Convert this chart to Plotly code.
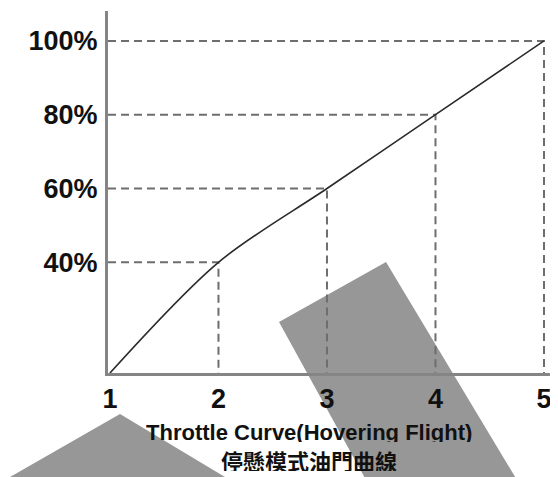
import plotly.graph_objects as go

# data
stick = [1, 2, 3, 4, 5]
throttle = [10, 40, 60, 80, 100]
y_ticks = [40, 60, 80, 100]
y_tick_text = ["40%", "60%", "80%", "100%"]
title_en = "Throttle Curve(Hovering Flight)"
title_zh = "停懸模式油門曲線"

# page has an 8px body margin, so the figure is laid out in page pixels minus 8
OFF = 8
W, H = 558 - OFF, 477 - OFF
L, R, T, B = 108 - OFF, 0, 11 - OFF, 477 - 373
x_range = [0.982, 5.129]
y_range = [10, 108.1]


def px(x, y):
    # page pixel position -> paper coords
    x, y = x - OFF, y - OFF
    return (x - L) / (W - L - R), (H - B - y) / (H - T - B)


def poly(points):
    pts = [px(x, y) for x, y in points]
    return "M " + " L ".join(f"{a:.4f},{b:.4f}" for a, b in pts) + " Z"


fig = go.Figure()

# dashed guide lines to each point (skip the first one at the corner)
for xv, yv in zip(stick[1:], throttle[1:]):
    fig.add_trace(go.Scatter(
        x=[x_range[0], xv, xv], y=[yv, yv, y_range[0]],
        mode="lines", line=dict(color="#6e6e6e", width=2, dash="8px,5px"),
        hoverinfo="skip", showlegend=False,
    ))

fig.add_trace(go.Scatter(
    x=stick, y=throttle, mode="lines",
    line=dict(color="#2a2a2a", width=1.6, shape="spline", smoothing=0.9),
    showlegend=False,
))

# grey blocks covering parts of the picture
for pts in [
    [(279, 322), (386, 262), (553, 540), (399, 540)],
    [(120, 414), (330, 540), (-100, 540)],
]:
    fig.add_shape(type="path", path=poly(pts), xref="paper", yref="paper",
                  fillcolor="#979797", line=dict(width=0), layer="below")

tick_font = dict(family="Liberation Sans, Arial", size=27, color="#111", weight="bold")

fig.update_xaxes(
    range=x_range, tickvals=stick, ticktext=[str(s) for s in stick],
    showgrid=False, zeroline=False, showline=True, linecolor="#858585",
    linewidth=3, ticks="", tickfont=tick_font, ticklabelstandoff=0,
)
fig.update_yaxes(
    range=y_range, tickvals=y_ticks, ticktext=y_tick_text,
    showgrid=False, zeroline=False, showline=True, linecolor="#858585",
    linewidth=3, ticks="", tickfont=tick_font, ticklabelstandoff=2,
)

cx, _ = px(309, 0)
fig.add_annotation(text=title_en, x=cx, y=px(0, 432)[1], xref="paper", yref="paper",
                   showarrow=False, xanchor="center", yanchor="middle", height=20,
                   font=dict(family="Liberation Sans, Arial", size=22, color="#111", weight="bold"))
fig.add_annotation(text=title_zh, x=cx, y=px(0, 460)[1], xref="paper", yref="paper",
                   showarrow=False, xanchor="center", yanchor="middle", height=22,
                   font=dict(family="Noto Sans CJK TC", size=22, color="#111", weight="bold"))

fig.update_layout(
    width=W, height=H,
    margin=dict(l=L, r=R, t=T, b=B, pad=0),
    plot_bgcolor="white", paper_bgcolor="white",
)

fig.write_html("out.html")
